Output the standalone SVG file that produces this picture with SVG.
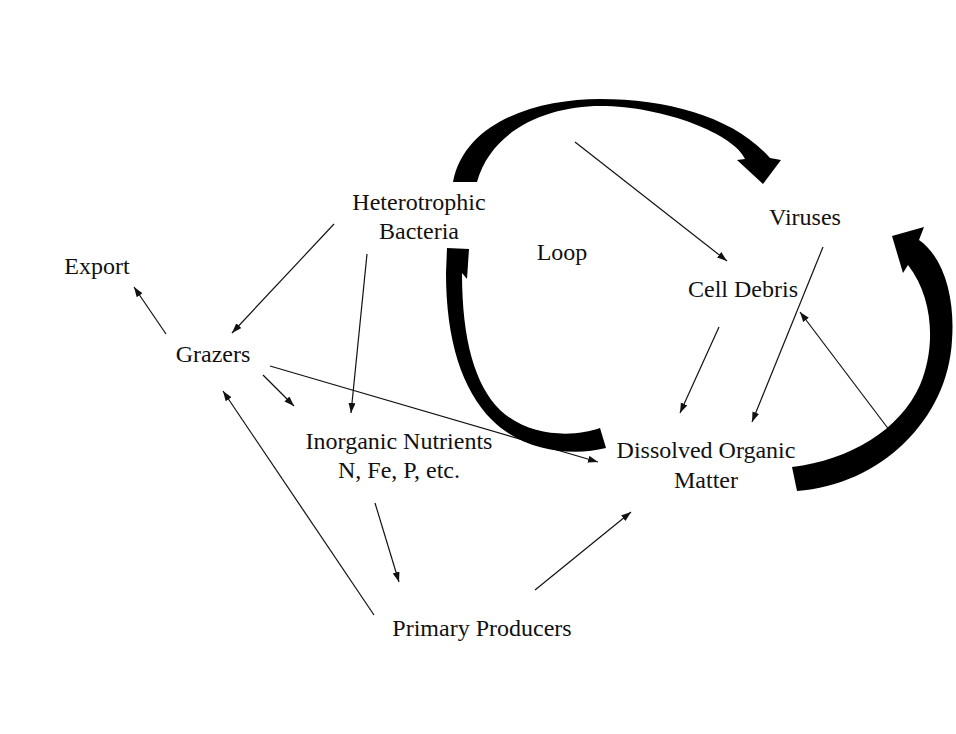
<svg xmlns="http://www.w3.org/2000/svg" width="956" height="734" viewBox="0 0 956 734">
<defs>
<style>
.lbl{font-family:"Liberation Serif","Times New Roman",serif;font-size:24px;fill:#111;text-anchor:middle}
.ln{stroke:#111;stroke-width:1.2;fill:none;marker-end:url(#ah)}
.thick{fill:#000;stroke:none}
</style>
<marker id="ah" markerUnits="userSpaceOnUse" markerWidth="11" markerHeight="8" refX="10" refY="3.5" orient="auto">
<path d="M0,0 L10,3.5 L0,7 z" fill="#111"/>
</marker>
</defs>
<rect width="956" height="734" fill="#fff"/>
<g id="connectors">
<line class="ln" x1="334" y1="224" x2="232" y2="333"/>
<line class="ln" x1="367" y1="254" x2="351" y2="413"/>
<line class="ln" x1="166" y1="334" x2="134" y2="287"/>
<line class="ln" x1="263" y1="375" x2="294" y2="406"/>
<line class="ln" x1="270" y1="366" x2="598" y2="462"/>
<line class="ln" x1="374" y1="615" x2="223" y2="391"/>
<line class="ln" x1="375" y1="503" x2="399" y2="582"/>
<line class="ln" x1="535" y1="590" x2="631" y2="512"/>
<line class="ln" x1="575" y1="142" x2="727" y2="261"/>
<line class="ln" x1="719" y1="327" x2="680" y2="413"/>
<line class="ln" x1="823" y1="247" x2="752" y2="422"/>
<line class="ln" x1="896" y1="439" x2="800" y2="312"/>
<path class="thick" d="M453,182 C465,120 540,99 600,99 C670,99 735,118 770,158 L781,160 L763,184 L737,160 L745,159 C735,135 665,106 600,106 C550,106 492,128 477,182 Z"/>
<path class="thick" d="M600,428 C575,437 530,438 500,410 C475,385 462,340 462,273 L467,279 L469,249 L447,248 L446,273 C446,340 462,390 492,420 C522,450 570,457 606,448 Z"/>
<path class="thick" d="M792,467 C850,460 900,430 920,385 C935,350 935,300 908,265 L903,273 L892,236 L924,227 L919,240 C945,258 955,300 952,340 C948,420 880,485 797,491 Z"/>
</g>
<g id="bacteria"><text class="lbl" x="419" y="210">Heterotrophic</text><text class="lbl" x="419" y="239">Bacteria</text></g>
<g id="export"><text class="lbl" x="97" y="274">Export</text></g>
<g id="grazers"><text class="lbl" x="213" y="362">Grazers</text></g>
<g id="loop"><text class="lbl" x="562" y="260">Loop</text></g>
<g id="viruses"><text class="lbl" x="805" y="225">Viruses</text></g>
<g id="celldebris"><text class="lbl" x="743" y="297">Cell Debris</text></g>
<g id="nutrients"><text class="lbl" x="399" y="449">Inorganic Nutrients</text><text class="lbl" x="399" y="478">N, Fe, P, etc.</text></g>
<g id="dom"><text class="lbl" x="706" y="458">Dissolved Organic</text><text class="lbl" x="706" y="488">Matter</text></g>
<g id="producers"><text class="lbl" x="482" y="636">Primary Producers</text></g>
</svg>
